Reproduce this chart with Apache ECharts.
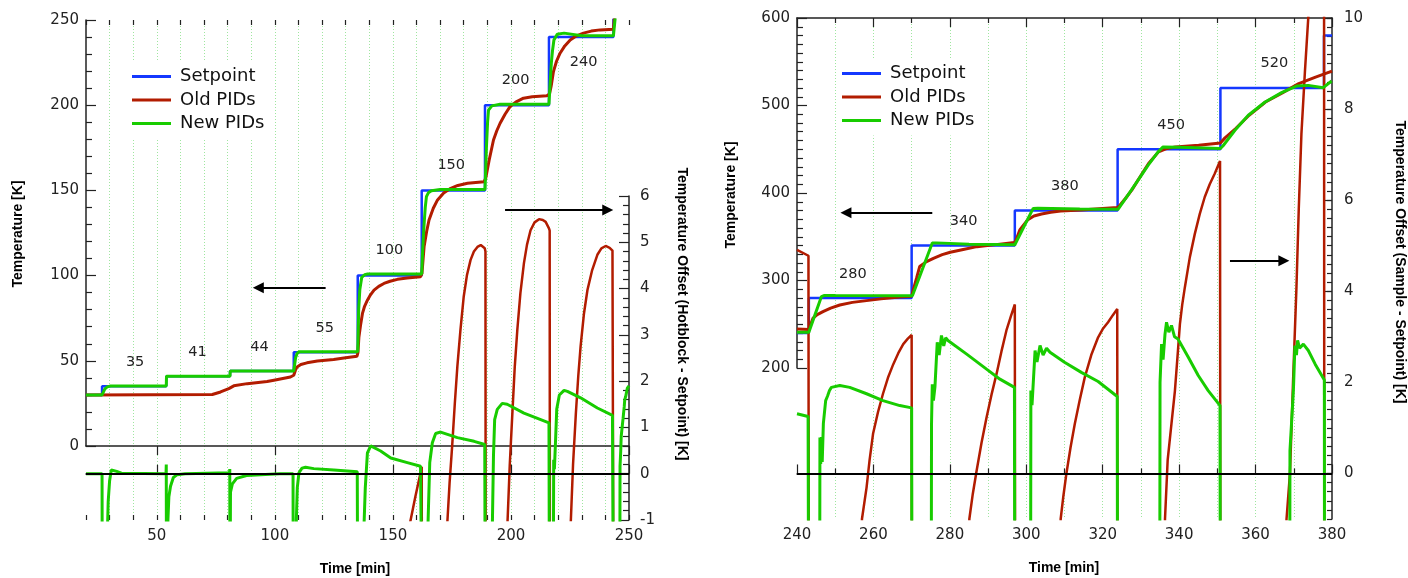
<!DOCTYPE html>
<html>
<head>
<meta charset="utf-8">
<script src="https://cdn.jsdelivr.net/npm/echarts@6.0.0/dist/echarts.min.js"></script>
<style>
  html, body { margin: 0; padding: 0; background: #fff; }
  #chart { width: 1408px; height: 578px; }
</style>
</head>
<body>
<div id="chart"></div>
<script>
// ---------------------------------------------------
// Datos: panel izquierdo (20 - 250 min)
// ---------------------------------------------------
const leftRange = [20, 250];
const leftStepTimes = [26.8, 54, 81, 108, 135.1, 162.2, 189, 216.1, 243.4];
const leftSetpoints = [30, 35, 41, 44, 55, 100, 150, 200, 240, 280];
const leftLabelAt = [[40.8, 49.4], [67.2, 55.2], [93.5, 58.2], [121.1, 69.0], [148.5, 115.0], [174.7, 164.5], [202.0, 214.4], [230.8, 225.3]];
const leftTimeTicks = [50, 100, 150, 200, 250];

const leftOldTemp = [
  [20, 30], [73.5, 30.2], [77, 31.7], [80.5, 33.7], [82.6, 35.3], [88.3, 36.6], [96.7, 37.8], [99.6, 38.6], [106.6, 40.5], [108, 41.5],
  [108.7, 44.5], [109.4, 46.4], [111, 47.8], [113.6, 48.8], [118, 49.9], [124.9, 50.8], [130, 51.8], [134.8, 52.7],
  [135.2, 55], [135.6, 64], [136.3, 71], [137.1, 77.8], [138, 82], [139.2, 85.6], [140.5, 88.7], [142, 91.5], [144, 93.7], [146.2, 95.4],
  [148.8, 96.7], [151.9, 97.8], [156, 98.6], [161.7, 99.3], [162.3, 101.3], [163.2, 116.9], [164.3, 126], [165.3, 132.6], [167.1, 139.5],
  [168.9, 144.4], [171.5, 148.5], [174.5, 151.2], [177.5, 152.9], [181.6, 154.2], [188.6, 155.1], [189.3, 157], [189.7, 160], [190.8, 168],
  [192.6, 179.6], [194, 185], [195.4, 189.4], [197.5, 194.7], [199.6, 199.2], [202, 201.8], [205.3, 204.1], [209, 205], [215.2, 205.5],
  [216.3, 206.5], [217, 211], [218, 219.7], [219.3, 225.8], [220.8, 230.5], [222.8, 234.8], [225.1, 238.3], [227.8, 240.7], [230.7, 242.3],
  [234, 243.5], [237.8, 244.2], [243.4, 244.6], [244.2, 257], [246.8, 264.5], [250, 269]
];

const leftNewTemp = [
  [20, 30], [26.8, 30], [27.3, 31.5], [28, 33.5], [29, 34.7], [30.4, 35.2], [54, 35.2], [54.1, 41], [81, 41], [81.1, 44], [108, 44],
  [108.4, 48], [108.8, 52], [109.4, 54.3], [110.3, 55.3], [135.1, 55.3], [135.5, 80], [136, 92], [136.8, 99], [138, 100.5], [139.3, 100.9],
  [162.2, 101], [162.6, 115], [163.2, 130], [163.7, 140], [164.2, 146.3], [165, 148.6], [166.3, 149.8], [170, 150.5], [189, 150.5],
  [189.6, 175], [190.1, 190], [190.5, 197.2], [191.9, 199.6], [195.4, 200.6], [216.1, 200.6], [216.6, 213], [217.1, 224.7], [217.6, 232],
  [218.2, 238.3], [219.6, 241.7], [222.5, 242.3], [230, 240.8], [243.4, 240.7], [244, 249], [245, 263], [246.4, 281], [247.5, 283], [250, 283]
];

const leftOldOffset = [
  [155.5, -1.5], [157.5, -1.0], [159.5, -0.5], [161.7, 0.02], [162.2, 0.15], [162.3, -3],
  [172.6, -3], [173.0, -1.1], [174, -0.2], [175.1, 0.6], [176.2, 1.5], [177.3, 2.32], [178.6, 3.1], [180, 3.83], [181.4, 4.3], [182.9, 4.62],
  [184.3, 4.8], [185.8, 4.9], [187.2, 4.94], [188.9, 4.87], [189.2, 4.8], [189.3, -3],
  [198.2, -3], [198.5, -1.1], [199.5, 0.2], [200.6, 1.31], [201.6, 2.3], [202.7, 3.11], [204, 3.9], [205.5, 4.55], [206.8, 4.95], [208.3, 5.26],
  [210, 5.43], [211.9, 5.5], [213.5, 5.48], [214.7, 5.44], [216.1, 5.3], [216.4, 5.25], [216.5, -3],
  [225.0, -3], [225.3, -1.1], [226.3, 0.2], [227.5, 1.31], [228.5, 2.1], [229.5, 2.75], [230.9, 3.45], [232.4, 3.97], [234.4, 4.4], [236.6, 4.73],
  [238.3, 4.87], [240.1, 4.92], [241.8, 4.88], [243, 4.82], [243.3, 4.8], [243.4, -3], [250, -3]
];

const leftNewOffset = [
  [20, 0], [26.8, 0], [26.9, -3], [28.9, -3], [29.1, -1.2], [29.4, -0.6], [30, -0.15], [30.7, 0.08], [31.5, 0.12], [33, 0.05], [35, 0.01],
  [53.9, 0], [54.0, 0.2], [54.1, -3], [54.5, -3], [54.7, -1.0], [55.1, -0.5], [55.8, -0.27], [57, -0.08], [58.6, -0.02], [62, 0],
  [80.8, 0.02], [80.9, 0.1], [81.0, -3], [81.1, -3], [81.2, -0.4], [82, -0.22], [83.8, -0.1], [88, -0.04], [94, -0.02], [102, 0],
  [107.7, 0], [107.8, -3], [108.8, -3], [109.1, -1.0], [109.5, -0.3], [110.2, 0.02], [111.5, 0.12], [113, 0.14], [116.5, 0.11], [125, 0.08],
  [134.9, 0.04], [135.1, -3], [137.5, -3], [137.7, -1.2], [138.3, -0.3], [139.2, 0.45], [140.6, 0.6], [141.3, 0.62], [144.8, 0.49],
  [149.1, 0.34], [156.1, 0.24], [161.7, 0.16], [162.2, 0.15], [162.3, -3], [164.6, -3], [164.8, -1.2], [165.6, 0.24], [166.7, 0.67],
  [168.1, 0.87], [170.2, 0.9], [177.3, 0.78], [184.4, 0.7], [188.9, 0.63], [189.1, -3], [191.9, -3], [192.1, -1.2], [192.6, 0.4],
  [193.1, 1.17], [194.2, 1.39], [196.3, 1.52], [198.4, 1.5], [205.5, 1.31], [212.6, 1.17], [216.1, 1.1], [216.3, -3], [217.9, -3],
  [218.1, 0.3], [218.4, 0.1], [218.8, 0.6], [219.4, 1.4], [220.5, 1.7], [222.5, 1.8], [223.9, 1.78], [229.5, 1.64], [236.6, 1.42],
  [243, 1.26], [243.3, 1.25], [243.4, -3], [246.1, -3], [246.2, 0.16], [246.5, 0.5], [246.7, 0.81], [247.2, 0.85], [247.5, 1.2],
  [248, 1.46], [248.2, 1.6], [248.6, 1.67], [249.3, 1.85], [250, 1.9]
];

// flechas: [cola, punta] en unidades de datos
const leftArrowTemp = [[121.5, 92.9], [93.0, 92.9]];
const leftArrowOffset = [[197.5, 5.7], [241.0, 5.7]];

// ---------------------------------------------------
// Datos: panel derecho (240 - 380 min)
// ---------------------------------------------------
const rightRange = [240, 380];
const rightStepTimes = [243.1, 270, 297, 323.9, 350.8, 377.9];
const rightSetpoints = [240, 280, 340, 380, 450, 520, 580];
const rightLabelAt = [[254.6, 307.5], [283.6, 368.3], [310.1, 408.2], [337.9, 477.4], [364.9, 547.8]];
const rightOffsetTicks = [0, 2, 4, 6, 8, 10];

const rightOldTemp = [
  [240, 244.5], [243.1, 244], [243.6, 250], [244.2, 257], [245.3, 261], [246.8, 264.5], [248.8, 268.5], [251.2, 272], [254.5, 275],
  [258.2, 277], [262, 279], [266.9, 281], [270, 282], [270.4, 289], [271.3, 303], [272.1, 315.9], [273.9, 321.6], [275.7, 325.4],
  [278, 329.5], [280.1, 332.3], [283.5, 335.5], [287.1, 338.7], [292, 341], [296.9, 343.5], [297.3, 346], [298.3, 357.7], [300.3, 369.1],
  [302, 373.7], [304, 376], [306.4, 377.9], [309, 379.4], [314.4, 380.5], [319, 382], [323.9, 383.5], [324.5, 386], [326, 394],
  [327.6, 403.3], [330, 420], [332, 433.7], [334.6, 447], [336.5, 450.5], [339, 452.7], [345.1, 454.6], [350.8, 457.2], [352, 463],
  [354.8, 473.7], [358.3, 488.8], [362.6, 504], [367, 514.4], [371.3, 525], [375.7, 532.5], [380, 539.3]
];

const rightNewTemp = [
  [240, 241], [243.1, 241], [246.4, 281.6], [247.2, 283], [250, 282.8], [270.2, 282.5], [275.4, 342.9], [276.5, 343], [285, 341.5],
  [297, 340.8], [301.8, 382.4], [303, 382.6], [314, 381.8], [324, 381.3], [327.5, 403.3], [331.9, 431.8], [334.5, 447], [335.8, 452.7],
  [340, 452.3], [350.8, 450.8], [351.5, 454], [354.6, 471.7], [358.1, 488.8], [362.5, 504], [366.8, 514.7], [370.7, 522.2],
  [373.8, 523], [377.7, 520.4], [379.9, 528], [380, 528.4]
];

const rightOldOffset = [
  [240, 4.91], [243, 4.78], [243.1, -5],
  [256.5, -5], [257, -1.0], [258.2, -0.31], [259, 0.3], [259.9, 0.87], [261.2, 1.35], [262.5, 1.75], [263.8, 2.1], [265.2, 2.4],
  [266.5, 2.64], [267.8, 2.84], [269, 2.96], [270, 3.04], [270.1, -5],
  [284.8, -5], [285.1, -1.0], [286, -0.45], [287, 0.06], [288.3, 0.68], [289.6, 1.23], [290.9, 1.73], [292.2, 2.18], [293.5, 2.68],
  [294.8, 3.14], [296, 3.46], [297, 3.71], [297.1, -5],
  [308.7, -5], [309, -1.0], [309.7, -0.5], [310.5, 0.0], [311.6, 0.58], [312.7, 1.09], [314, 1.62], [315.3, 2.11], [317, 2.6],
  [318.8, 2.99], [320, 3.17], [321.4, 3.32], [322.6, 3.47], [323.8, 3.61], [323.9, -5],
  [336.0, -5], [336.3, -1.0], [337, 0.3], [338, 1.1], [338.9, 1.82], [339.6, 2.6], [340.2, 3.28], [340.8, 3.7], [341.5, 4.09],
  [342.8, 4.75], [344.1, 5.26], [345.4, 5.7], [346.7, 6.07], [348, 6.35], [349.3, 6.58], [350.7, 6.86], [350.8, -5],
  [367.9, -5], [368.1, -1.0], [369, 0.0], [369.8, 2.0], [370.7, 4.09], [371.3, 5.8], [372, 7.46], [372.9, 8.8], [373.8, 10.02],
  [375.5, 12.5], [377.9, 15], [378, -5], [380, -5]
];

const rightNewOffset = [
  [240, 1.31], [242.9, 1.25], [243.1, -5],
  [245.9, -5], [246.0, 0.79], [246.2, 0.21], [246.4, 0.8], [246.6, 0.25], [246.9, 1.1], [247.5, 1.6], [248, 1.7], [248.5, 1.82],
  [249, 1.89], [251.2, 1.93], [253.8, 1.89], [258.2, 1.75], [262.5, 1.6], [266.9, 1.49], [270, 1.44], [270.1, -5],
  [275.1, -5], [275.2, 1.09], [275.4, 1.96], [275.7, 1.6], [276.1, 1.9], [276.7, 2.88], [277.2, 2.6], [277.8, 3.03], [278.4, 2.8],
  [278.9, 2.98], [279.5, 2.92], [284.4, 2.62], [289.6, 2.29], [293.1, 2.07], [296.9, 1.89], [297.0, -5],
  [301.1, -5], [301.2, 1.82], [301.5, 1.5], [302.3, 2.7], [302.8, 2.45], [303.6, 2.81], [304.4, 2.6], [305.3, 2.75], [306.2, 2.66],
  [310, 2.44], [314.4, 2.22], [318.8, 2.02], [323.8, 1.69], [323.9, -5],
  [334.9, -5], [335.0, 2.0], [335.4, 2.84], [335.8, 2.5], [336.3, 3.06], [336.7, 3.32], [337.3, 3.1], [338, 3.25], [338.8, 3.0],
  [339.7, 2.95], [342.4, 2.55], [345, 2.15], [347.6, 1.82], [350.7, 1.49], [350.8, -5],
  [368.9, -5], [369.0, 0.5], [369.9, 1.82], [370.3, 2.81], [370.7, 2.6], [371, 2.92], [371.5, 2.75], [372.5, 2.84], [373.8, 2.7],
  [375.6, 2.4], [378, 2.05], [378.05, -5], [380, -5]
];

const rightArrowTemp = [[275.4, 377.4], [252.8, 377.4]];
const rightArrowOffset = [[353.3, 4.67], [367.4, 4.67]];

// ---------------------------------------------------
// Estilos
// ---------------------------------------------------
const BLUE = '#1438ff';
const RED = '#b21c00';
const GREEN = '#18cc00';
const FONT = 'DejaVu Sans';
const tickLabel = { fontFamily: FONT, fontSize: 15, color: '#222' };
const axisLineOn = { show: true, lineStyle: { color: '#222', width: 1.5 } };
const tickLine = { color: '#222', width: 1.2 };
const dotted = { color: '#9fe69f', width: 1, type: [1, 2] };

// escalones del setpoint
const buildSteps = (range, times, values) => {
  const pts = [[range[0], values[0]]];
  times.forEach((t, i) => {
    pts.push([t, values[i]]);
    pts.push([t, values[i + 1]]);
  });
  pts.push([range[1], values[values.length - 1]]);
  return pts;
};

const lineSeries = (name, data, color, width, xi, yi, z) => ({
  type: 'line', name, data, xAxisIndex: xi, yAxisIndex: yi,
  showSymbol: false, symbol: 'none', z: z, silent: true, animation: false,
  lineStyle: { color, width }, itemStyle: { color },
  emphasis: { disabled: true }
});

const stepLabels = (anchors, values) => ({
  symbol: 'circle', symbolSize: 1, silent: true, animation: false,
  itemStyle: { color: 'rgba(0,0,0,0)' },
  label: { show: true, position: 'inside', formatter: '{c}', fontFamily: FONT, fontSize: 14.5, color: '#222' },
  data: anchors.map((c, i) => ({ coord: c, value: values[i + 1] }))
});

const arrow = (pts) => ({
  silent: true, animation: false,
  symbol: ['none', 'triangle'], symbolSize: 11,
  label: { show: false },
  itemStyle: { color: '#000' },
  lineStyle: { color: '#000', width: 2, type: 'solid' },
  emphasis: { disabled: true },
  data: [[{ coord: pts[0] }, { coord: pts[1] }]]
});

const zeroLine = {
  silent: true, animation: false, symbol: 'none',
  label: { show: false },
  lineStyle: { color: '#000', width: 2, type: 'solid' },
  emphasis: { disabled: true },
  data: [{ yAxis: 0 }]
};

const titleText = (text, x, y, rot) => ({
  type: 'text', x, y, rotation: rot, silent: true,
  style: { text, fontFamily: 'Liberation Sans', fontWeight: 'bold', fontSize: 14, fill: '#000', align: 'center', verticalAlign: 'middle' }
});

const legendFor = (left, top) => ({
  left, top, orient: 'vertical', icon: 'rect', itemWidth: 39, itemHeight: 3, itemGap: 5.5,
  backgroundColor: '#fff', padding: 6, selectedMode: false,
  textStyle: { fontFamily: FONT, fontSize: 18, color: '#111', padding: [0, 0, 0, 4] },
  data: ['Setpoint', 'Old PIDs', 'New PIDs']
});

// ---------------------------------------------------
// Chart
// ---------------------------------------------------
const chart = echarts.init(document.getElementById('chart'), null, { renderer: 'canvas' });

const option = {
  backgroundColor: '#fff',
  animation: false,
  grid: [
    { left: 86, right: 779, top: 20, bottom: 132, outerBoundsMode: 'none' },   // 0: temperatura izq
    { left: 86, right: 779, top: 196, bottom: 58, outerBoundsMode: 'none' },   // 1: offset izq
    { left: 86, right: 779, top: 20, bottom: 58, outerBoundsMode: 'none' },    // 2: rejilla izq
    { left: 797, right: 76, top: 18, bottom: 210, outerBoundsMode: 'none' },   // 3: temperatura der
    { left: 797, right: 76, top: 18, bottom: 59, outerBoundsMode: 'none' }     // 4: offset der
  ],
  xAxis: [
    { type: 'value', gridIndex: 0, position: 'top', min: leftRange[0], max: leftRange[1], axisLine: axisLineOn,
      axisTick: { show: true, inside: true, length: 9, lineStyle: tickLine, customValues: leftTimeTicks },
      axisLabel: { show: false }, splitLine: { show: false } },
    { type: 'value', gridIndex: 0, position: 'top', min: leftRange[0], max: leftRange[1], interval: 10, axisLine: { show: false },
      axisTick: { show: true, inside: true, length: 5, lineStyle: tickLine },
      axisLabel: { show: false }, splitLine: { show: false } },
    { type: 'value', gridIndex: 1, position: 'bottom', min: leftRange[0], max: leftRange[1], axisLine: axisLineOn,
      axisTick: { show: true, inside: true, length: 9, lineStyle: tickLine, customValues: leftTimeTicks },
      axisLabel: Object.assign({ margin: 9, customValues: leftTimeTicks }, tickLabel), splitLine: { show: false } },
    { type: 'value', gridIndex: 1, position: 'bottom', min: leftRange[0], max: leftRange[1], interval: 10, axisLine: { show: false },
      axisTick: { show: true, inside: true, length: 5, lineStyle: tickLine },
      axisLabel: { show: false }, splitLine: { show: false } },
    { type: 'value', gridIndex: 2, position: 'bottom', min: leftRange[0], max: leftRange[1], interval: 10, axisLine: { show: false },
      axisTick: { show: false }, axisLabel: { show: false },
      splitLine: { show: true, showMinLine: false, showMaxLine: false, lineStyle: dotted } },
    { type: 'value', gridIndex: 3, position: 'top', min: rightRange[0], max: rightRange[1], interval: 20, axisLine: axisLineOn,
      axisTick: { show: true, inside: true, length: 9, lineStyle: tickLine },
      minorTick: { show: true, splitNumber: 2, length: 5, lineStyle: tickLine },
      axisLabel: { show: false }, splitLine: { show: false } },
    { type: 'value', gridIndex: 4, position: 'bottom', min: rightRange[0], max: rightRange[1], interval: 20, axisLine: axisLineOn,
      axisTick: { show: true, inside: true, length: 9, lineStyle: tickLine },
      minorTick: { show: true, splitNumber: 2, length: 5, lineStyle: tickLine },
      axisLabel: Object.assign({ margin: 9 }, tickLabel),
      splitLine: { show: true, showMinLine: false, showMaxLine: false, lineStyle: dotted },
      minorSplitLine: { show: true, lineStyle: dotted } }
  ],
  yAxis: [
    { type: 'value', gridIndex: 0, position: 'left', min: 0, max: 250, interval: 50, axisLine: axisLineOn,
      axisTick: { show: true, inside: true, length: 10, lineStyle: tickLine },
      minorTick: { show: true, splitNumber: 5, length: 6, lineStyle: tickLine },
      axisLabel: Object.assign({ margin: 7 }, tickLabel), splitLine: { show: false } },
    { type: 'value', gridIndex: 1, position: 'right', min: -1, max: 6, interval: 1, axisLine: axisLineOn,
      axisTick: { show: true, inside: true, length: 10, lineStyle: tickLine },
      minorTick: { show: true, splitNumber: 5, length: 6, lineStyle: tickLine },
      axisLabel: Object.assign({ margin: 11 }, tickLabel), splitLine: { show: false } },
    { type: 'value', gridIndex: 2, min: 0, max: 1, show: false },
    { type: 'value', gridIndex: 3, position: 'left', min: 200, max: 600, interval: 100, axisLine: axisLineOn,
      axisTick: { show: true, inside: true, length: 10, lineStyle: tickLine },
      minorTick: { show: true, splitNumber: 10, length: 6, lineStyle: tickLine },
      axisLabel: Object.assign({ margin: 7 }, tickLabel), splitLine: { show: false } },
    { type: 'value', gridIndex: 4, position: 'right', min: -1, max: 10, interval: 1, axisLine: axisLineOn,
      axisTick: { show: true, inside: true, length: 9, lineStyle: tickLine, customValues: rightOffsetTicks },
      axisLabel: Object.assign({ margin: 12, customValues: rightOffsetTicks }, tickLabel), splitLine: { show: false } },
    { type: 'value', gridIndex: 4, position: 'right', min: -1, max: 10, interval: 0.2, axisLine: { show: false },
      axisTick: { show: true, inside: true, length: 5, lineStyle: tickLine },
      axisLabel: { show: false }, splitLine: { show: false } }
  ],
  legend: [legendFor(126, 61.5), legendFor(836, 58.5)],
  graphic: [
    titleText('Temperature [K]', 18, 234, Math.PI / 2),
    titleText('Time [min]', 355, 569, 0),
    titleText('Temperature Offset (Hotblock - Setpoint) [K]', 682, 314, -Math.PI / 2),
    titleText('Temperature [K]', 731, 195, Math.PI / 2),
    titleText('Time [min]', 1064, 568, 0),
    titleText('Temperature Offset (Sample - Setpoint) [K]', 1400, 262, -Math.PI / 2)
  ],
  series: [
    // panel izquierdo
    Object.assign(lineSeries('Setpoint', buildSteps(leftRange, leftStepTimes, leftSetpoints), BLUE, 2.5, 0, 0, 2),
      { markPoint: stepLabels(leftLabelAt, leftSetpoints), markLine: arrow(leftArrowTemp) }),
    lineSeries('Old PIDs', leftOldTemp, RED, 3, 0, 0, 3),
    lineSeries('New PIDs', leftNewTemp, GREEN, 3, 0, 0, 4),
    Object.assign(lineSeries('Old PIDs', leftOldOffset, RED, 2.5, 2, 1, 3), { markLine: zeroLine }),
    Object.assign(lineSeries('New PIDs', leftNewOffset, GREEN, 3, 2, 1, 4), { markLine: arrow(leftArrowOffset) }),
    // panel derecho
    Object.assign(lineSeries('Setpoint', buildSteps(rightRange, rightStepTimes, rightSetpoints), BLUE, 2.5, 5, 3, 2),
      { markPoint: stepLabels(rightLabelAt, rightSetpoints), markLine: arrow(rightArrowTemp) }),
    lineSeries('Old PIDs', rightOldTemp, RED, 3, 5, 3, 3),
    lineSeries('New PIDs', rightNewTemp, GREEN, 3, 5, 3, 4),
    Object.assign(lineSeries('Old PIDs', rightOldOffset, RED, 2.5, 6, 4, 3), { markLine: zeroLine }),
    Object.assign(lineSeries('New PIDs', rightNewOffset, GREEN, 3, 6, 4, 4), { markLine: arrow(rightArrowOffset) })
  ]
};

chart.setOption(option);
</script>
</body>
</html>
